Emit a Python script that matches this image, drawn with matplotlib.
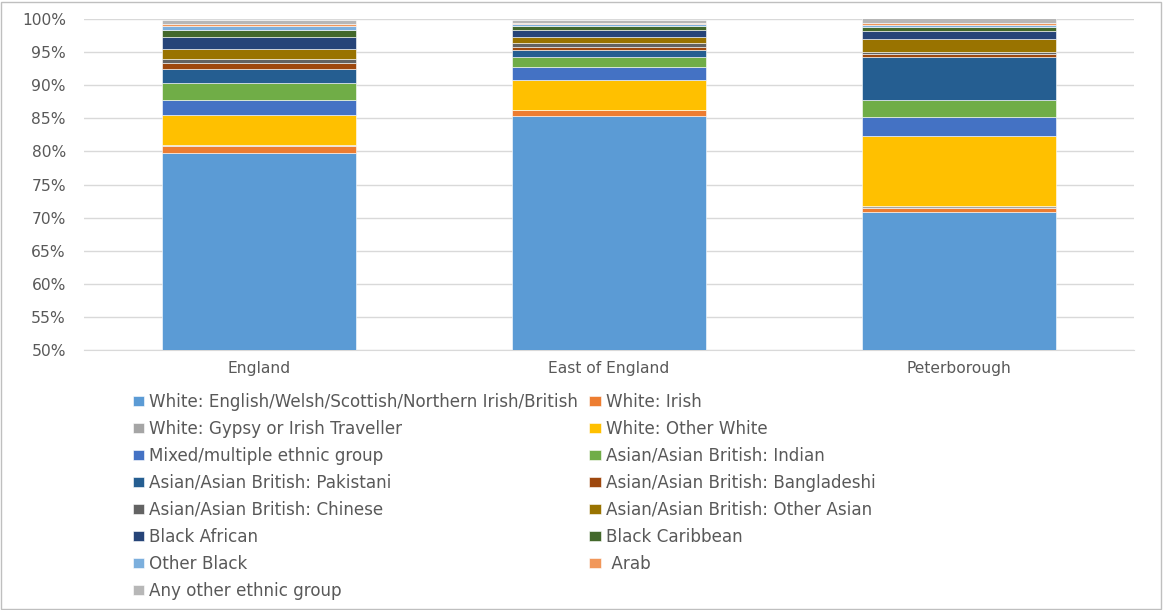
# plot.py
# 各地区族群构成堆叠柱状图 (2011)

import matplotlib.pyplot as plt
from matplotlib.patches import Rectangle

plt.rcParams['font.family'] = ['DejaVu Sans']

# -----------------数据
areas = ['England', 'East of England', 'Peterborough']

groups = [
    'White: English/Welsh/Scottish/Northern Irish/British',
    'White: Irish',
    'White: Gypsy or Irish Traveller',
    'White: Other White',
    'Mixed/multiple ethnic group',
    'Asian/Asian British: Indian',
    'Asian/Asian British: Pakistani',
    'Asian/Asian British: Bangladeshi',
    'Asian/Asian British: Chinese',
    'Asian/Asian British: Other Asian',
    'Black African',
    'Black Caribbean',
    'Other Black',
    ' Arab',
    'Any other ethnic group',
]

# 每个族群在三个地区的占比 (%)
white_british = [79.8, 85.3, 70.9]
white_irish = [1.0, 0.9, 0.6]
white_gypsy = [0.1, 0.1, 0.3]
white_other = [4.6, 4.5, 10.6]
mixed = [2.3, 1.9, 2.8]
asian_indian = [2.6, 1.5, 2.5]
asian_pakistani = [2.1, 1.1, 6.6]
asian_bangladeshi = [0.8, 0.5, 0.4]
asian_chinese = [0.7, 0.6, 0.3]
asian_other = [1.5, 0.8, 1.9]
black_african = [1.8, 1.2, 1.3]
black_caribbean = [1.1, 0.6, 0.6]
other_black = [0.5, 0.2, 0.3]
arab = [0.4, 0.2, 0.3]
any_other = [0.6, 0.4, 0.7]

values = [white_british, white_irish, white_gypsy, white_other, mixed,
          asian_indian, asian_pakistani, asian_bangladeshi, asian_chinese,
          asian_other, black_african, black_caribbean, other_black, arab,
          any_other]

colors = ['#5B9BD5', '#ED7D31', '#A5A5A5', '#FFC000', '#4472C4', '#70AD47',
          '#255E91', '#9E480E', '#636363', '#997300', '#264478', '#43682B',
          '#7CAFDD', '#F1975A', '#B7B7B7']

TEXT = '#595959'

# -----------------绘图
fig = plt.figure(figsize=(11.63, 6.10), dpi=100)
ax = fig.add_axes([0.0722, 0.426, 0.9028, 0.543])

x = range(len(areas))
bottom = [0.0] * len(areas)
bars = []
for vals, col in zip(values, colors):
    b = ax.bar(x, vals, width=0.554, bottom=bottom, color=col,
               edgecolor='white', linewidth=0.4, zorder=3)
    bars.append(b)
    bottom = [b0 + v for b0, v in zip(bottom, vals)]

ax.set_ylim(50, 100)
ax.set_xlim(-0.5, 2.5)
ax.set_yticks(range(50, 101, 5))
ax.set_yticklabels(['%d%%' % t for t in range(50, 101, 5)])
ax.set_xticks(list(x))
ax.set_xticklabels(areas)
ax.grid(axis='y', color='#d9d9d9', linewidth=1, zorder=0)
ax.tick_params(axis='both', length=0, labelsize=11.2, colors=TEXT)
ax.tick_params(axis='y', pad=13)
ax.tick_params(axis='x', pad=8)
for side in ['top', 'right', 'left']:
    ax.spines[side].set_visible(False)
ax.spines['bottom'].set_color('#d9d9d9')

# 图例按行排列：两列，逐行读取
order = list(range(0, 15, 2)) + list(range(1, 15, 2))
leg = fig.legend([bars[i] for i in order], [groups[i] for i in order],
                 ncol=2, loc='upper left', bbox_to_anchor=(0.114, 0.356),
                 frameon=False, fontsize=12.1, handlelength=0.7,
                 handleheight=0.5, handletextpad=0.3, columnspacing=0.66,
                 labelspacing=0.535, borderaxespad=0, borderpad=0)
for t in leg.get_texts():
    t.set_color(TEXT)

# 外框
fig.patches.append(Rectangle((0.001, 0.002), 0.997, 0.995, transform=fig.transFigure,
                             fill=False, edgecolor='#bfbfbf', linewidth=1))

fig.savefig('out.png', dpi=100)
